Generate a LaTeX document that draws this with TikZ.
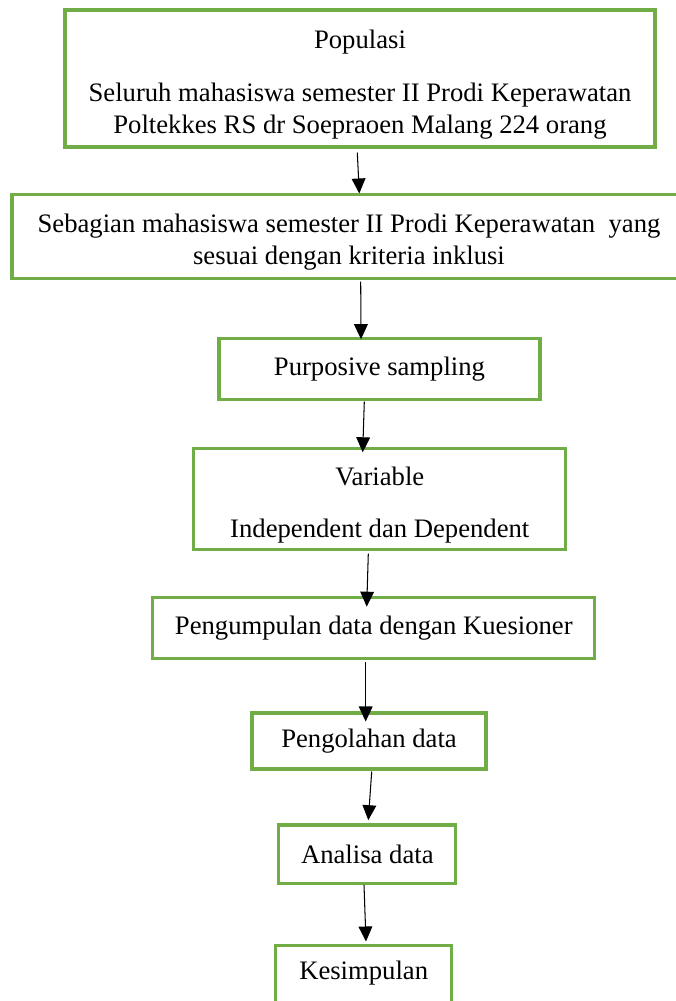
\documentclass[tikz,border=0pt]{standalone}
\usepackage{fontspec}
\setmainfont{Liberation Serif}
\usetikzlibrary{arrows.meta}
\usetikzlibrary{calc}
\definecolor{hijau}{HTML}{70AD47}
\newcommand\atas[1]{\raisebox{0pt}[14.5pt]{#1}}

\begin{document}
\begin{tikzpicture}
  [x=0.48pt, y=-0.48pt,
   kotak/.style={draw=hijau, line width=1.45pt, align=center, inner sep=0pt,
     font=\fontsize{12.8}{15.3}\selectfont},
   ukuran/.style 2 args={minimum width=#1*0.48pt, minimum height=#2*0.48pt},
   panah/.style={-{Triangle[width=6.6pt,length=7.2pt]}, line width=0.5pt},
  ]
  \useasboundingbox (0,0) rectangle (676,1001);
  \clip (0,0) rectangle (676,1001);

  \node[kotak, ukuran={590}{137}] (populasi) at (360,78.5)
    {\atas{Populasi}\\[10pt]
     Seluruh mahasiswa semester II Prodi Keperawatan\\
     Poltekkes RS dr Soepraoen Malang 224 orang};
  \node[kotak, ukuran={674}{84}] (sampel) at (349,236.5)
    {\atas{Sebagian mahasiswa semester II Prodi Keperawatan\ \ yang}\\
     sesuai dengan kriteria inklusi};
  \node[kotak, ukuran={321}{61}] (purposive) at (379.5,368.8)
    {Purposive sampling};
  \node[kotak, ukuran={372}{101}] (variabel) at (379.8,499)
    {\atas{Variable}\\[9.6pt] Independent dan Dependent};
  \node[kotak, ukuran={442}{61}] (kuesioner) at (373.8,627.7)
    {Pengumpulan data dengan Kuesioner};
  \node[kotak, ukuran={234}{56}] (olah) at (369,741)
    {Pengolahan data};
  \node[kotak, ukuran={177}{58}] (analisa) at (367.3,854)
    {Analisa data};
  \node[kotak, ukuran={176}{57}] (simpul) at (363.7,973.5)
    {Kesimpulan};

  \draw[panah] ($(populasi.south)+(-2.7,4)$) -- ($(sampel.north)+(10.3,0.5)$);
  \draw[panah] ($(sampel.south)+(11.7,1.5)$) -- ($(purposive.north)+(-18.5,2.4)$);
  \draw[panah] ($(purposive.south)+(-15.2,0.7)$) -- ($(variabel.north)+(-17.1,5.3)$);
  \draw[panah] ($(variabel.south)+(-11.5,2.7)$) -- ($(kuesioner.north)+(-7.1,11)$);
  \draw[panah] ($(kuesioner.south)+(-8.1,2.7)$) -- ($(olah.north)+(-3.3,10)$);
  \draw[panah] ($(olah.south)+(2.7,1)$) -- ($(analisa.north)+(1,-3.3)$);
  \draw[panah] ($(analisa.south)+(-3.3,0.3)$) -- ($(simpul.north)+(2.3,-2)$);
\end{tikzpicture}
\end{document}
